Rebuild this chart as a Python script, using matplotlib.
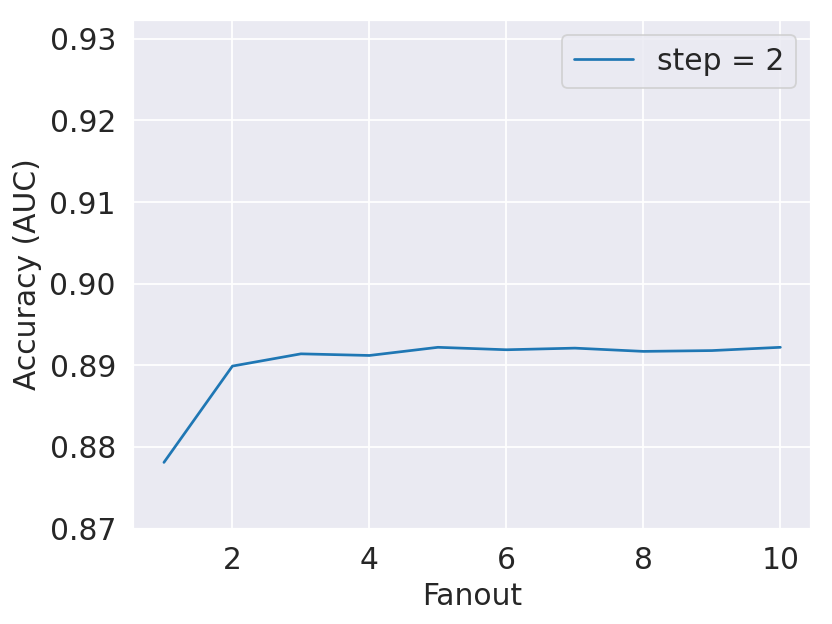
import matplotlib
matplotlib.use('Agg')
import matplotlib.pyplot as plt
import seaborn as sns

# fanout vs AUC
fanout = [1, 2, 3, 4, 5, 6, 7, 8, 9, 10]
auc = [0.8781, 0.8899, 0.8914, 0.8912, 0.8922, 0.8919, 0.8921, 0.8917, 0.8918, 0.8922]
series_label = 'step = 2'

sns.set(font_scale=1.5)
plt.rcParams['axes.labelsize'] = 16.5

fig, ax = plt.subplots(figsize=(6.4, 4.8), dpi=130)
ax.plot(fanout, auc, color='#1f77b4', label=series_label)
ax.set_ylim(0.87, 0.9323)
ax.set_xticks([2, 4, 6, 8, 10])
ax.set_xlabel('Fanout')
ax.set_ylabel('Accuracy (AUC)')
ax.legend(loc='upper right')

fig.subplots_adjust(left=0.16, right=0.975, bottom=0.153, top=0.968)
fig.savefig('out.png', dpi=130)
